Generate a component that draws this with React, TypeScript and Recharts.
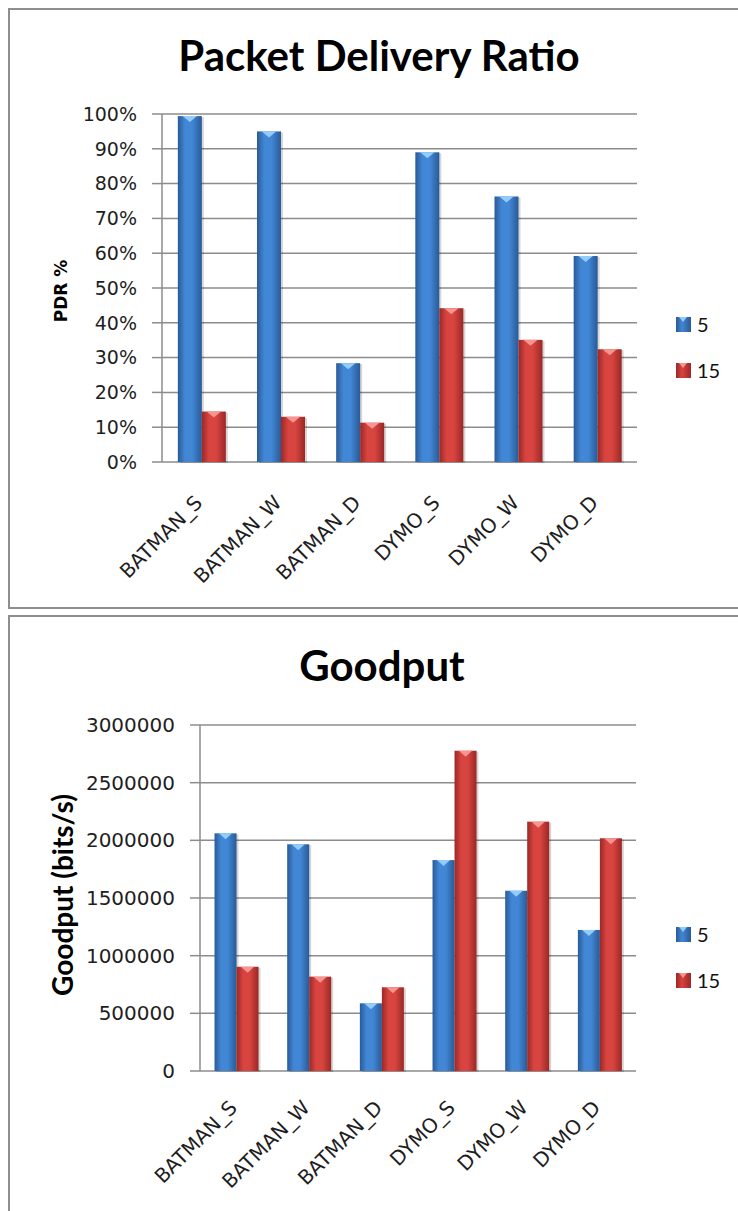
import React from "react";
import { BarChart, Bar, XAxis, YAxis, CartesianGrid } from "recharts";

const categories = ["BATMAN_S", "BATMAN_W", "BATMAN_D", "DYMO_S", "DYMO_W", "DYMO_D"];
const seriesNames = ["5", "15"];

// packet delivery ratio, percent
const pdr5 = [99.4, 95.0, 28.4, 89.0, 76.3, 59.2];
const pdr15 = [14.5, 13.0, 11.3, 44.2, 35.1, 32.4];
const pdrTicks = [0, 10, 20, 30, 40, 50, 60, 70, 80, 90, 100];

// goodput, bits/s
const goodput5 = [2061000, 1966000, 587000, 1829000, 1563000, 1223000];
const goodput15 = [904000, 818000, 726000, 2777000, 2162000, 2018000];
const goodputTicks = [0, 500000, 1000000, 1500000, 2000000, 2500000, 3000000];

const edgeTicks = [0, 1, 2, 3, 4, 5, 6];

const BLUE = { dark: "#2a5a96", light: "#4187d6", tip: "#93ccf8" };
const RED = { dark: "#9a2826", light: "#d8443f", tip: "#f59592" };
const AXIS = "#8c8c8c";
const TEXT = "#1e1e1e";

const BevelBar = (props: any) => {
  const { x, y, width, height, gradId, tip } = props;
  if (!height || height <= 0) return null;
  const inset = Math.max(2, width * 0.2);
  return (
    <g>
      <rect x={x + 2} y={y + 1} width={width} height={height} fill="#000" opacity={0.16} />
      <rect x={x} y={y} width={width} height={height} fill={`url(#${gradId})`} />
      <polygon
        points={`${x + inset},${y} ${x + width - inset},${y} ${x + width / 2},${y + 6}`}
        fill={tip}
      />
    </g>
  );
};

const SlantTick = (props: any) => {
  const { x, y, payload, fontSize, dx, dy } = props;
  const px = x + dx;
  const py = y + dy;
  return (
    <text
      x={px}
      y={py}
      transform={`rotate(-45 ${px} ${py})`}
      textAnchor="end"
      fontSize={fontSize}
      fontFamily="DejaVu Sans"
      fill={TEXT}
    >
      {payload.value}
    </text>
  );
};

const Grad = ({ id, c }: { id: string; c: typeof BLUE }) => (
  <linearGradient id={id} x1="0" y1="0" x2="1" y2="0">
    <stop offset="0%" stopColor={c.dark} />
    <stop offset="30%" stopColor={c.light} />
    <stop offset="60%" stopColor={c.light} />
    <stop offset="100%" stopColor={c.dark} />
  </linearGradient>
);

const LegendKey = ({ top, c, label }: { top: number; c: typeof BLUE; label: string }) => (
  <div style={{ position: "absolute", left: 676, top, display: "flex", alignItems: "center" }}>
    <div
      style={{
        width: 15,
        height: 15,
        background: `linear-gradient(to right, ${c.dark}, ${c.light} 40%, ${c.dark})`,
        position: "relative",
      }}
    >
      <div
        style={{
          position: "absolute",
          left: 3,
          top: 0,
          width: 0,
          height: 0,
          borderLeft: "4.5px solid transparent",
          borderRight: "4.5px solid transparent",
          borderTop: `5px solid ${c.tip}`,
        }}
      />
    </div>
    <span style={{ marginLeft: 6, fontFamily: "Lato", fontSize: 20, color: "#111", lineHeight: "15px" }}>
      {label}
    </span>
  </div>
);

interface PanelProps {
  id: string;
  top: number;
  height: number;
  plotTop: number;
  plotBottom: number;
  plotLeft: number;
  plotRight: number;
  title: string;
  titleX: number;
  titleY: number;
  titleSize: number;
  yTitle: string;
  yTitleX: number;
  yTitleY: number;
  yTitleFont: string;
  yTitleSize: number;
  a: number[];
  b: number[];
  ticks: number[];
  fmt: (v: number) => string;
  tickFont: number;
  labelFont: number;
  legendTop: number;
  labelDx: number;
  labelDy: number;
}

function Panel(p: PanelProps) {
  const rows = categories.map((name, i) => ({ name, s5: p.a[i], s15: p.b[i] }));
  const w = 738;
  return (
    <>
      <div
        style={{
          position: "absolute",
          left: 8,
          top: p.top,
          width: 760,
          height: p.height,
          border: "2px solid #8e8e8e",
          boxSizing: "border-box",
        }}
      />
      <div
        style={{
          position: "absolute",
          left: p.titleX,
          top: p.titleY,
          transform: "translate(-50%, -50%)",
          fontFamily: "Lato",
          fontWeight: 700,
          fontSize: p.titleSize,
          whiteSpace: "nowrap",
          color: "#000",
        }}
      >
        {p.title}
      </div>
      <div
        style={{
          position: "absolute",
          left: p.yTitleX,
          top: p.yTitleY,
          transform: "translate(-50%, -50%) rotate(-90deg)",
          fontFamily: p.yTitleFont,
          fontWeight: 700,
          fontSize: p.yTitleSize,
          whiteSpace: "nowrap",
          color: "#000",
        }}
      >
        {p.yTitle}
      </div>
      <div style={{ position: "absolute", left: 0, top: p.top }}>
        <BarChart
          width={w}
          height={p.height}
          data={rows}
          margin={{ top: p.plotTop - p.top, right: w - p.plotRight, bottom: 0, left: 0 }}
          barCategoryGap="20%"
          barGap={0}
        >
          <defs>
            <Grad id={`${p.id}-blue`} c={BLUE} />
            <Grad id={`${p.id}-red`} c={RED} />
          </defs>
          <CartesianGrid vertical={false} stroke={AXIS} strokeWidth={1.5} />
          <XAxis
            xAxisId="edges"
            type="number"
            domain={[0, 6]}
            ticks={edgeTicks}
            tick={false}
            height={0}
            tickSize={9}
            stroke={AXIS}
            strokeWidth={1.5}
            allowDataOverflow
          />
          <XAxis
            xAxisId="cat"
            dataKey="name"
            axisLine={false}
            tickLine={false}
            tickMargin={0}
            interval={0}
            height={p.top + p.height - p.plotBottom}
            tick={<SlantTick fontSize={p.labelFont} dx={p.labelDx} dy={p.labelDy} />}
          />
          <YAxis
            width={p.plotLeft}
            domain={[p.ticks[0], p.ticks[p.ticks.length - 1]]}
            ticks={p.ticks}
            interval={0}
            tickFormatter={p.fmt}
            tickSize={10}
            tickMargin={15}
            stroke={AXIS}
            strokeWidth={1.5}
            tick={{ fill: TEXT, fontSize: p.tickFont, fontFamily: "DejaVu Sans" }}
          />
          <Bar
            xAxisId="cat"
            dataKey="s5"
            name={seriesNames[0]}
            isAnimationActive={false}
            shape={(s: any) => <BevelBar {...s} gradId={`${p.id}-blue`} tip={BLUE.tip} />}
          />
          <Bar
            xAxisId="cat"
            dataKey="s15"
            name={seriesNames[1]}
            isAnimationActive={false}
            shape={(s: any) => <BevelBar {...s} gradId={`${p.id}-red`} tip={RED.tip} />}
          />
        </BarChart>
      </div>
      <LegendKey top={p.legendTop} c={BLUE} label={seriesNames[0]} />
      <LegendKey top={p.legendTop + 46} c={RED} label={seriesNames[1]} />
    </>
  );
}

export default function App() {
  return (
    <div
      style={{
        position: "fixed",
        left: 0,
        top: 0,
        width: 738,
        height: 1211,
        overflow: "hidden",
        background: "#fff",
      }}
    >
      <Panel
        id="pdr"
        top={8}
        height={601}
        plotTop={114}
        plotBottom={462}
        plotLeft={162}
        plotRight={637}
        title="Packet Delivery Ratio"
        titleX={379}
        titleY={55}
        titleSize={42}
        yTitle="PDR %"
        yTitleX={61}
        yTitleY={291}
        yTitleFont="DejaVu Sans"
        yTitleSize={17}
        a={pdr5}
        b={pdr15}
        ticks={pdrTicks}
        fmt={(v) => `${v}%`}
        tickFont={19}
        labelFont={20}
        legendTop={317}
        labelDx={2}
        labelDy={36}
      />
      <Panel
        id="goodput"
        top={615}
        height={620}
        plotTop={725}
        plotBottom={1071}
        plotLeft={200}
        plotRight={636}
        title="Goodput"
        titleX={382}
        titleY={665}
        titleSize={42}
        yTitle="Goodput (bits/s)"
        yTitleX={62}
        yTitleY={895}
        yTitleFont="Lato"
        yTitleSize={28}
        a={goodput5}
        b={goodput15}
        ticks={goodputTicks}
        fmt={(v) => `${v}`}
        tickFont={20}
        labelFont={20}
        legendTop={927}
        labelDx={2}
        labelDy={32}
      />
    </div>
  );
}
